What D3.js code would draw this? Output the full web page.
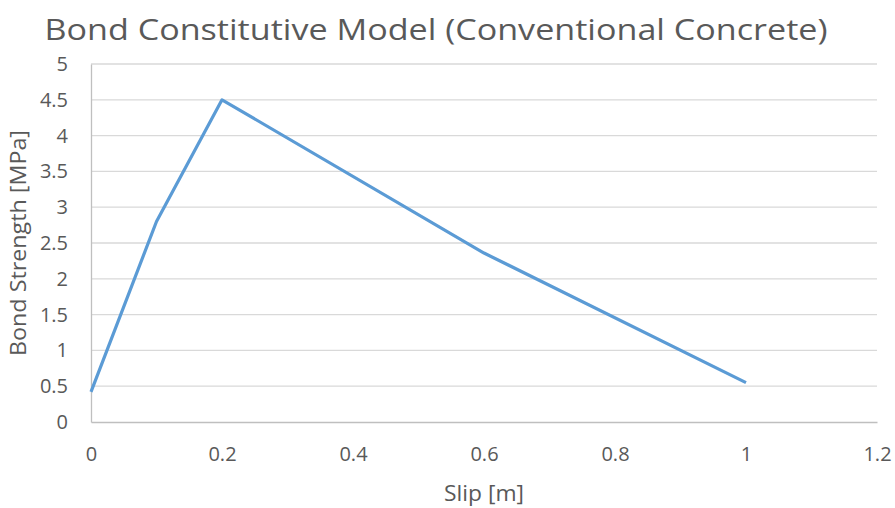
<!DOCTYPE html>
<html>
<head>
<meta charset="utf-8">
<script src="https://cdn.jsdelivr.net/npm/d3@7"></script>
<style>
  body { margin: 0; background: #fff; }
  text { font-family: "Open Sans", sans-serif; fill: #595959; }
</style>
</head>
<body>
<div id="chart"></div>
<script>
var width = 895;
var height = 508;

// data
var slip = [0, 0.1, 0.2, 0.6, 1.0];
var strength = [0.42, 2.8, 4.5, 2.36, 0.55];
var xTicks = [0, 0.2, 0.4, 0.6, 0.8, 1, 1.2];
var yTicks = [0, 0.5, 1, 1.5, 2, 2.5, 3, 3.5, 4, 4.5, 5];

var points = slip.map(function (s, i) { return { x: s, y: strength[i] }; });

var xScale = d3.scaleLinear().domain([0, 1.2]).range([91, 877]);
var yScale = d3.scaleLinear().domain([0, 5]).range([422, 64]);

var svg = d3.select("#chart")
  .append("svg")
  .attr("width", width)
  .attr("height", height);

// gridlines
svg.append("g")
  .selectAll("line")
  .data(yTicks.slice(1))
  .enter()
  .append("line")
  .attr("x1", xScale(0))
  .attr("x2", xScale(1.2))
  .attr("y1", function (d) { return yScale(d); })
  .attr("y2", function (d) { return yScale(d); })
  .attr("stroke", "#d9d9d9")
  .attr("stroke-width", 1.3);

// axes
var xAxis = d3.axisBottom(xScale).tickValues(xTicks).tickSize(0).tickPadding(25)
  .tickFormat(function (d) { return String(d); });
var yAxis = d3.axisLeft(yScale).tickValues(yTicks).tickSize(0).tickPadding(23)
  .tickFormat(function (d) { return String(d); });

var gx = svg.append("g").attr("transform", "translate(0," + yScale(0) + ")").call(xAxis);
var gy = svg.append("g").attr("transform", "translate(" + xScale(0) + ",0)").call(yAxis);

gx.select(".domain").attr("stroke", "#bfbfbf").attr("stroke-width", 1.3);
gy.select(".domain").attr("stroke", "#bfbfbf").attr("stroke-width", 1.3);
svg.selectAll(".tick text").attr("font-size", "20px").attr("fill", "#595959")
  .style("font-family", "'Open Sans', sans-serif");

// line
var line = d3.line()
  .x(function (d) { return xScale(d.x); })
  .y(function (d) { return yScale(d.y); });

svg.append("path")
  .datum(points)
  .attr("d", line)
  .attr("fill", "none")
  .attr("stroke", "#5b9bd5")
  .attr("stroke-width", 3.2)
  .attr("stroke-linejoin", "round");

// title
svg.append("text")
  .attr("x", 436)
  .attr("y", 40)
  .attr("text-anchor", "middle")
  .attr("font-size", "29px")
  .attr("textLength", 783)
  .attr("lengthAdjust", "spacingAndGlyphs")
  .text("Bond Constitutive Model (Conventional Concrete)");

// axis labels
svg.append("text")
  .attr("x", 484)
  .attr("y", 501)
  .attr("text-anchor", "middle")
  .attr("font-size", "22px")
  .attr("textLength", 80)
  .attr("lengthAdjust", "spacingAndGlyphs")
  .text("Slip [m]");

svg.append("text")
  .attr("transform", "translate(26,243) rotate(-90)")
  .attr("text-anchor", "middle")
  .attr("font-size", "22px")
  .attr("textLength", 226)
  .attr("lengthAdjust", "spacingAndGlyphs")
  .text("Bond Strength [MPa]");
</script>
</body>
</html>
